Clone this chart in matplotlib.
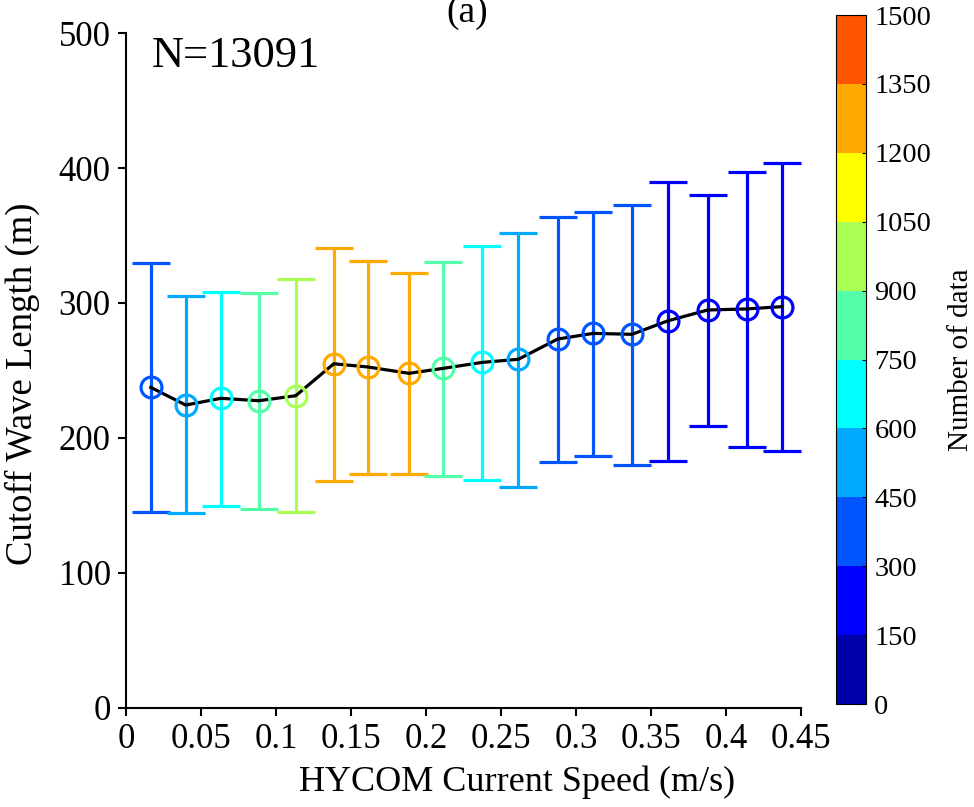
import matplotlib.pyplot as plt
from matplotlib.colors import ListedColormap, BoundaryNorm
import matplotlib as mpl
import numpy as np

plt.rcParams['font.family'] = ['Liberation Serif', 'DejaVu Serif']

# bin centre speed (m/s), mean cutoff wavelength, upper/lower error bar ends, count per bin
speed = [0.0165, 0.0398, 0.0633, 0.0885, 0.1131, 0.1385, 0.1613, 0.1885, 0.2115,
         0.2375, 0.2615, 0.2878, 0.3115, 0.3373, 0.3615, 0.3878, 0.4138, 0.4371]
mean_len = [237.5, 224.4, 229.4, 227.6, 231.3, 255.0, 252.6, 247.9, 251.6,
            256.0, 258.3, 273.3, 277.5, 276.8, 286.9, 294.8, 295.6, 297.3]
upper = [329.9, 305.4, 307.9, 307.2, 317.5, 340.7, 331.4, 322.0, 330.6,
         342.0, 351.6, 363.5, 367.4, 372.6, 389.9, 380.2, 397.3, 404.0]
lower = [145.4, 144.7, 149.9, 147.4, 145.4, 168.4, 173.1, 173.1, 171.9,
         169.1, 163.5, 182.5, 186.4, 180.0, 183.2, 208.9, 193.1, 190.4]
counts = [440, 590, 740, 890, 1040, 1340, 1330, 1300, 890,
          740, 590, 440, 440, 440, 290, 290, 290, 290]
cbar_levels = [0, 150, 300, 450, 600, 750, 900, 1050, 1200, 1350, 1500]
cbar_colors = ['#0000aa', '#0000ff', '#0055ff', '#00aaff', '#00ffff',
               '#55ffaa', '#aaff55', '#ffff00', '#ffaa00', '#ff5500']

cmap = ListedColormap(cbar_colors)
norm = BoundaryNorm(cbar_levels, cmap.N)

fig = plt.figure(figsize=(9.74, 8.07), dpi=100)
ax = fig.add_axes([0.1294, 0.1227, 0.693, 0.8364])
cax = fig.add_axes([0.8583, 0.1276, 0.0308, 0.8538])

x = np.array(speed)
y = np.array(mean_len)
for i in range(len(x)):
    c = cmap(norm(counts[i]))
    ax.errorbar(x[i], y[i], yerr=[[y[i] - lower[i]], [upper[i] - y[i]]],
                fmt='none', ecolor=c, elinewidth=2.3, capsize=13.5, capthick=2.3, zorder=2)
ax.plot(x, y, color='black', lw=2.3, zorder=3)
for i in range(len(x)):
    c = cmap(norm(counts[i]))
    ax.plot(x[i], y[i], 'o', mfc='none', mec=c, ms=15, mew=2.3, zorder=4)

ax.set_xlim(0, 0.45)
ax.set_ylim(0, 500)
ax.set_xticks(np.arange(0, 0.451, 0.05))
ax.set_xticklabels(['0', '0.05', '0.1', '0.15', '0.2', '0.25', '0.3', '0.35', '0.4', '0.45'])
ax.set_yticks([0, 100, 200, 300, 400, 500])
ax.spines['top'].set_visible(False)
ax.spines['right'].set_visible(False)
ax.spines['left'].set_linewidth(1.5)
ax.spines['bottom'].set_linewidth(1.5)
ax.tick_params(direction='out', length=6, width=1.5, labelsize=25, pad=5)
ax.set_xlabel('HYCOM Current Speed (m/s)', fontsize=26, labelpad=6)
ax.xaxis.set_label_coords(0.579, -0.085)
ax.set_ylabel('Cutoff Wave Length (m)', fontsize=26.5, labelpad=8)
ax.yaxis.set_label_coords(-0.128, 0.48)
ax.text(0.0385, 0.9496, 'N=13091', transform=ax.transAxes, fontsize=32, va='baseline', ha='left')
fig.text(0.48, 0.973, '(a)', fontsize=27, ha='center', va='baseline')

cb = mpl.colorbar.ColorbarBase(cax, cmap=cmap, norm=norm, boundaries=cbar_levels,
                               ticks=cbar_levels, spacing='uniform')
cb.outline.set_linewidth(0.8)
cb.ax.tick_params(direction='in', length=3, width=0.8, labelsize=20.5, pad=6)
cb.set_label('Number of data', fontsize=21)
cb.ax.yaxis.set_label_coords(3.73, 0.5)

fig.savefig('out.png', dpi=100)
